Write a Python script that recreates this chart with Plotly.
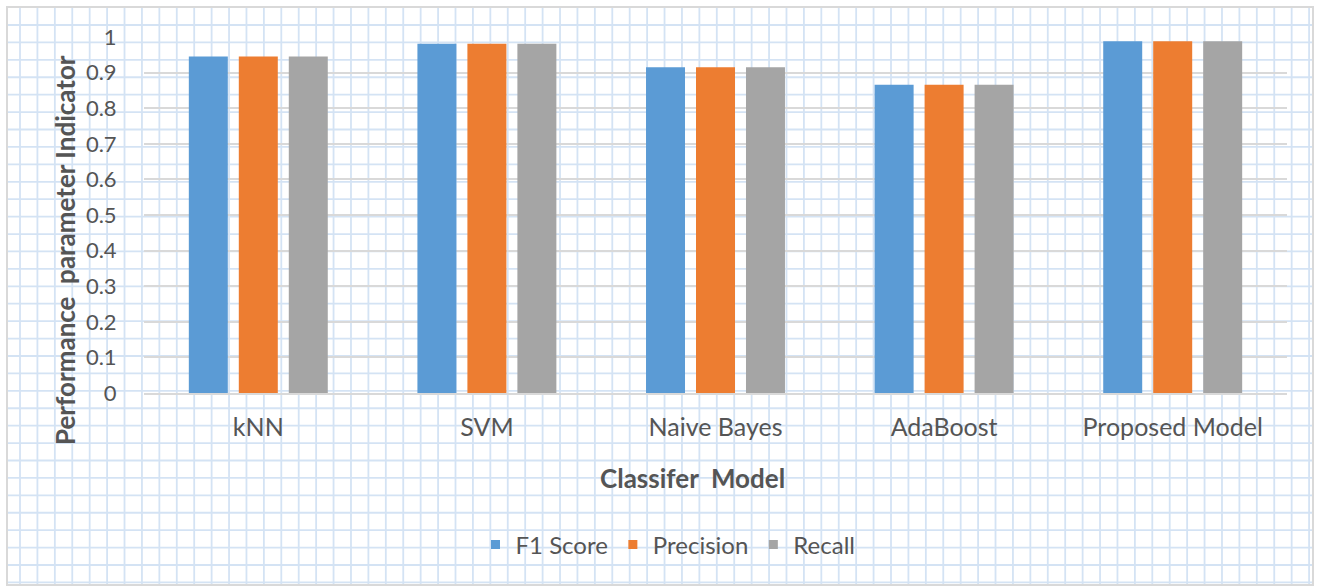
import plotly.graph_objects as go

# Classifier comparison data
models = ["kNN", "SVM", "Naive Bayes", "AdaBoost", "Proposed Model"]
f1_score = [0.945, 0.981, 0.915, 0.866, 0.988]
precision = [0.945, 0.981, 0.915, 0.866, 0.988]
recall = [0.945, 0.981, 0.915, 0.866, 0.988]
y_ticks = [0, 0.1, 0.2, 0.3, 0.4, 0.5, 0.6, 0.7, 0.8, 0.9, 1]
y_tick_text = ["0", "0.1", "0.2", "0.3", "0.4", "0.5", "0.6", "0.7", "0.8", "0.9", "1"]

series = [
    ("F1 Score", f1_score, "#5B9BD5"),
    ("Precision", precision, "#ED7D31"),
    ("Recall", recall, "#A5A5A5"),
]

W, H = 1317, 586
ML, MR, MT, MB = 144, 30, 37, 193
PW, PH = W - ML - MR, H - MT - MB

FONT = "Lato, 'Open Sans', sans-serif"
TEXT = "#555555"


def px_x(px):
    return (px - ML) / PW


def px_y(py):
    return (H - MB - py) / PH


fig = go.Figure()
for name, vals, color in series:
    fig.add_trace(go.Bar(
        x=models, y=vals, name=name, marker=dict(color=color, line=dict(width=0)),
        showlegend=False,
    ))
    # small square legend marker
    fig.add_trace(go.Scatter(
        x=[None], y=[None], mode="markers", name=name,
        marker=dict(symbol="square", size=9, color=color),
    ))

# graph-paper background
shapes = []
grid_color = "#d4e3f4"
step = 17.42
left, right, top, bottom = 7, 1313, 7, 585
x = 20.0
while x < right - 2:
    shapes.append(dict(type="line", xref="paper", yref="paper", layer="below",
                       x0=px_x(x), x1=px_x(x), y0=px_y(top), y1=px_y(bottom),
                       line=dict(color=grid_color, width=1.8)))
    x += step
y = 25.0
while y < bottom - 1:
    shapes.append(dict(type="line", xref="paper", yref="paper", layer="below",
                       x0=px_x(left), x1=px_x(right), y0=px_y(y), y1=px_y(y),
                       line=dict(color=grid_color, width=1.8)))
    y += step
shapes.append(dict(type="rect", xref="paper", yref="paper", layer="below",
                   x0=px_x(left), x1=px_x(right), y0=px_y(top), y1=px_y(bottom),
                   line=dict(color="#d9d9d9", width=2), fillcolor="rgba(0,0,0,0)"))

annotations = [
    dict(text="<b>Performance\u00a0 parameter Indicator</b>", xref="paper", yref="paper",
         x=px_x(65), y=px_y(250), textangle=-90, showarrow=False,
         xanchor="center", yanchor="middle",
         font=dict(family=FONT, size=26, color=TEXT)),
    dict(text="<b>Classifer\u00a0 Model</b>", xref="paper", yref="paper",
         x=px_x(692), y=px_y(478), showarrow=False,
         xanchor="center", yanchor="middle",
         font=dict(family=FONT, size=26, color=TEXT)),
]

fig.update_layout(
    width=W, height=H,
    margin=dict(l=ML, r=MR, t=MT, b=MB, pad=0),
    paper_bgcolor="white",
    plot_bgcolor="rgba(0,0,0,0)",
    barmode="group",
    bargap=0.344,
    bargroupgap=0.22,
    font=dict(family=FONT, color=TEXT),
    shapes=shapes,
    annotations=annotations,
    legend=dict(orientation="h", x=px_x(668), y=px_y(545), xanchor="center",
                yanchor="middle", font=dict(family=FONT, size=24, color=TEXT),
                bgcolor="rgba(0,0,0,0)", itemwidth=30, tracegroupgap=0),
    xaxis=dict(
        showgrid=False, showline=True, linecolor="#d9d9d9", linewidth=2,
        ticks="outside", ticklen=11, tickcolor="rgba(0,0,0,0)",
        tickfont=dict(family=FONT, size=25, color=TEXT),
        zeroline=False,
    ),
    yaxis=dict(
        range=[0, 1], tickvals=y_ticks, ticktext=y_tick_text,
        showgrid=True, gridcolor="#d9d9d9", gridwidth=2,
        showline=False, zeroline=False,
        ticks="outside", ticklen=22, tickcolor="rgba(0,0,0,0)",
        tickfont=dict(family=FONT, size=22, color=TEXT),
    ),
)

fig.write_html("out.html")
